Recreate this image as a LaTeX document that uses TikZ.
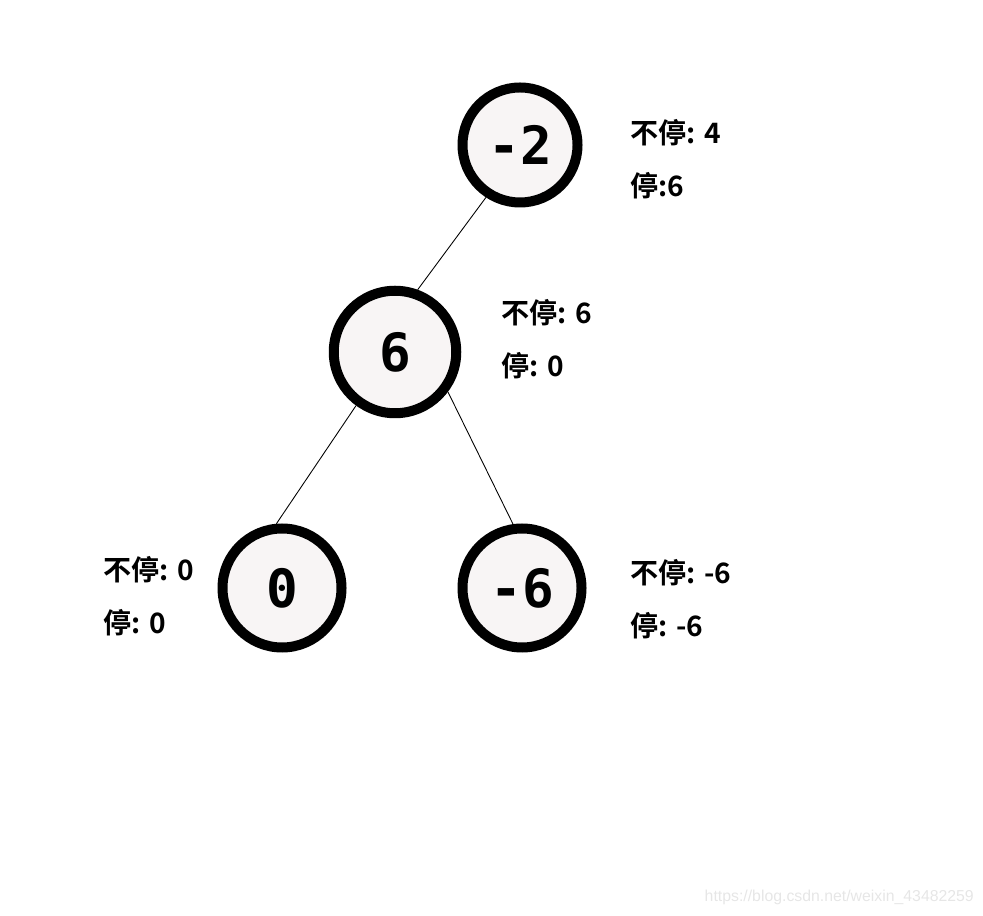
\documentclass[tikz,border=0pt]{standalone}
\usepackage{fontspec}
\newfontfamily\cjk{Noto Sans CJK SC Bold}
\newfontfamily\numfont{DejaVu Sans Mono Bold}
\newfontfamily\markfont{Liberation Sans}
\definecolor{nodefill}{HTML}{F8F5F5}
\definecolor{markgray}{HTML}{E6E6E6}
\tikzset{
  tree/.style={circle, draw=black, line width=0.2cm, fill=nodefill,
    minimum size=2.38cm, inner sep=0pt, font=\numfont\fontsize{30}{30}\selectfont},
  score/.style={anchor=west, inner sep=0pt, font=\cjk\fontsize{16}{16}\selectfont}
}
\begin{document}
\begin{tikzpicture}
      \useasboundingbox (0,0) rectangle (19.66,18.3);
      \draw
        (10.40,15.40) node[tree, minimum size=2.3cm] (top){-2}
        (7.90,11.26) node[tree, minimum size=2.45cm] (six){6}
        (5.64,6.54) node[tree] (zero){0}
        (10.44,6.54) node[tree] (msix){-6};
      \draw
        (12.60,15.64) node[score] (topgo){不停: 4}
        (12.60,14.58) node[score] (topstop){停:6}
        (10.02,12.04) node[score] (sixgo){不停: 6}
        (10.02,10.98) node[score] (sixstop){停: 0}
        (2.06,6.90) node[score] (zerogo){不停: 0}
        (2.06,5.84) node[score] (zerostop){停: 0}
        (12.60,6.84) node[score] (msixgo){不停: -6}
        (12.60,5.78) node[score] (msixstop){停: -6};
      \begin{scope}[-, line width=0.5pt]
        \draw (top.237) to (six.70);
        \draw (six.234) to (zero.95);
        \draw (six.323) to (msix.98);
      \end{scope}
      \node[anchor=east, text=markgray, font=\markfont\fontsize{9}{9}\selectfont]
        (mark) at (19.60,0.36) {https://blog.csdn.net/weixin\_43482259};
    \end{tikzpicture}
\end{document}
